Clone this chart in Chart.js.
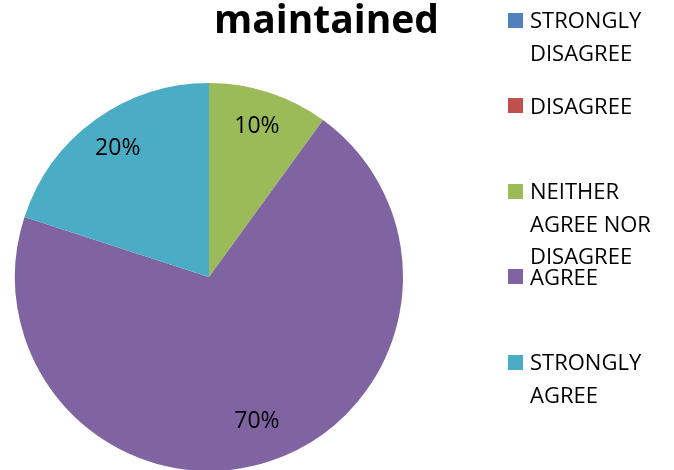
<!DOCTYPE html>
<html>
<head>
<meta charset="utf-8">
<script src="https://cdn.jsdelivr.net/npm/chart.js@4.4.0/dist/chart.umd.min.js"></script>
<style>
  body { margin: 0; overflow: hidden; background: #fff; font-family: 'Open Sans', sans-serif; }
  #wrap { position: absolute; left: 0; top: 0; width: 674px; height: 480px; }
  #title { position: absolute; left: 0; top: -9px; width: 653px; text-align: center;
           font-weight: bold; font-size: 39px; line-height: 53px; color: #000; }
  #legend { position: absolute; left: 508px; top: 0; }
  .item { position: absolute; left: 0; width: 166px; }
  .box { position: absolute; left: 0; top: 9.5px; width: 15px; height: 15px; }
  .txt { margin-left: 22px; width: 140px; font-size: 22px; line-height: 32.5px; color: #000; }
</style>
</head>
<body>
<div id="wrap">
  <canvas id="pie" width="674" height="480"></canvas>
  <div id="title">maintained</div>
  <div id="legend"></div>
</div>
<script>
const labels = ['STRONGLY DISAGREE', 'DISAGREE', 'NEITHER AGREE NOR DISAGREE', 'AGREE', 'STRONGLY AGREE'];
const shares = [0, 0, 10, 70, 20];
const colors = ['#4F81BD', '#C0504D', '#9BBB59', '#8064A2', '#4BACC6'];

// percent labels inside the slices
const pctLabels = {
  id: 'pctLabels',
  afterDatasetsDraw(chart) {
    const ctx = chart.ctx;
    const meta = chart.getDatasetMeta(0);
    ctx.save();
    ctx.font = '23px "Open Sans"';
    ctx.fillStyle = '#000';
    ctx.textAlign = 'center';
    ctx.textBaseline = 'middle';
    meta.data.forEach((arc, i) => {
      const v = shares[i];
      if (!v) return;
      const p = arc.getProps(['x', 'y', 'startAngle', 'endAngle', 'outerRadius']);
      const mid = (p.startAngle + p.endAngle) / 2;
      const r = p.outerRadius * 0.8;
      ctx.fillText(v + '%', p.x + Math.cos(mid) * r, p.y + Math.sin(mid) * r - 3);
    });
    ctx.restore();
  }
};

new Chart(document.getElementById('pie'), {
  type: 'pie',
  data: {
    labels: labels,
    datasets: [{
      data: shares,
      backgroundColor: colors,
      borderWidth: 0
    }]
  },
  options: {
    responsive: false,
    animation: false,
    layout: { padding: { left: 15, right: 271, top: 83, bottom: 9 } },
    plugins: {
      legend: { display: false },
      tooltip: { enabled: false }
    }
  },
  plugins: [pctLabels]
});

const legend = document.getElementById('legend');
labels.forEach((name, i) => {
  const item = document.createElement('div');
  item.className = 'item';
  item.style.top = (3 + i * 85.6) + 'px';
  item.innerHTML = '<div class="box" style="background:' + colors[i] + '"></div><div class="txt">' + name + '</div>';
  legend.appendChild(item);
});
</script>
</body>
</html>
